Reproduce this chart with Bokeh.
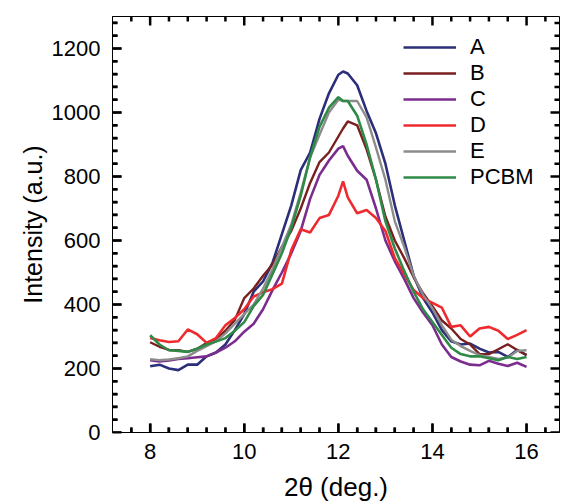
from bokeh.plotting import figure
from bokeh.models import Range1d, Legend, LegendItem, FixedTicker, Title
from bokeh.embed import file_html
from bokeh.resources import INLINE

two_theta = [8.0, 8.2, 8.4, 8.6, 8.8, 9.0, 9.2, 9.4, 9.6, 9.8, 10.0, 10.2, 10.4, 10.6,
             10.8, 11.0, 11.2, 11.4, 11.6, 11.8, 12.0, 12.1, 12.2, 12.4, 12.6, 12.8, 13.0,
             13.2, 13.4, 13.6, 13.8, 14.0, 14.2, 14.4, 14.6, 14.8, 15.0, 15.2, 15.4, 15.6,
             15.8, 16.0]

A = [207, 212, 200, 195, 212, 212, 238, 250, 275, 320, 370, 440, 472, 530, 620, 710, 820,
     875, 980, 1060, 1118, 1128, 1122, 1085, 1005, 935, 840, 710, 600, 490, 420, 375, 320,
     285, 275, 278, 262, 250, 252, 236, 258, 242]
B = [282, 268, 258, 257, 252, 262, 280, 292, 318, 352, 420, 450, 490, 525, 580, 630, 700,
     780, 845, 875, 925, 950, 972, 960, 885, 790, 675, 600, 545, 485, 435, 395, 350, 325,
     292, 275, 245, 245, 260, 276, 258, 242]
C = [226, 222, 225, 230, 232, 235, 238, 250, 265, 285, 315, 340, 385, 445, 500, 560, 630,
     730, 805, 850, 887, 895, 865, 818, 790, 700, 600, 535, 480, 420, 375, 335, 275, 236,
     222, 212, 210, 224, 215, 208, 218, 205]
D = [295, 288, 283, 285, 322, 307, 280, 295, 335, 358, 385, 425, 438, 448, 465, 570, 635,
     625, 670, 680, 740, 785, 735, 685, 695, 670, 630, 545, 495, 445, 420, 405, 390, 330,
     335, 300, 325, 330, 318, 292, 305, 320]
E = [229, 226, 228, 232, 238, 255, 270, 285, 310, 340, 370, 400, 450, 510, 580, 650, 750,
     860, 930, 1000, 1040, 1036, 1036, 1036, 985, 890, 790, 660, 580, 490, 430, 388, 335,
     290, 270, 255, 242, 236, 230, 234, 255, 257]
PCBM = [304, 275, 257, 255, 252, 262, 275, 284, 295, 318, 345, 395, 430, 495, 560, 640, 740,
        860, 955, 1015, 1048, 1036, 1036, 990, 900, 790, 660, 575, 505, 440, 385, 345, 305,
        265, 245, 238, 238, 232, 226, 236, 230, 236]

series_names = ["A", "B", "C", "D", "E", "PCBM"]
series_values = [A, B, C, D, E, PCBM]
colors = ["#2b2e78", "#7a1f1f", "#7b2d8e", "#ef2a2e", "#8c8c8c", "#2f8a48"]
widths = [2.6, 2.4, 2.6, 2.6, 2.4, 2.6]

x_ticks = [8, 10, 12, 14, 16]
x_minor = [7.6, 8.4, 8.8, 9.2, 9.6, 10.4, 10.8, 11.2, 11.6, 12.4, 12.8, 13.2, 13.6,
           14.4, 14.8, 15.2, 15.6, 16.4]
y_ticks = [0, 200, 400, 600, 800, 1000, 1200]
y_minor = [v for v in range(40, 1300, 40) if v % 200 != 0]

FONT = "Liberation Sans"
X0, X1, Y0, Y1 = 7.2, 16.7, 0, 1300

W, H = 561, 504
BL, BT, BR, BB = 112, 16, 2, 68
FW, FH = W - BL - BR, H - BT - BB          # frame size in px
DX, DY = (X1 - X0) / FW, (Y1 - Y0) / FH     # data units per px
MAJ, MIN = 9, 5                             # tick lengths in px

p = figure(width=W, height=H, output_backend="svg", toolbar_location=None,
           x_range=Range1d(X0, X1), y_range=Range1d(Y0, Y1),
           min_border_left=BL, min_border_top=BT, min_border_right=BR, min_border_bottom=BB)
p.outline_line_color = "black"
p.grid.visible = False

renderers = []
for name, vals, c, w in zip(series_names, series_values, colors, widths):
    r = p.line(two_theta, vals, line_color=c, line_width=w)
    renderers.append((name, r))

# inward ticks on all four edges
TW = 2.5
for ticks, ln in ((x_ticks, MAJ), (x_minor, MIN)):
    n = len(ticks)
    p.segment(x0=list(ticks), y0=[Y0] * n, x1=list(ticks), y1=[Y0 + ln * DY] * n,
              line_color="black", line_width=TW)
    p.segment(x0=list(ticks), y0=[Y1] * n, x1=list(ticks), y1=[Y1 - ln * DY] * n,
              line_color="black", line_width=TW)
for ticks, ln in ((y_ticks, MAJ), (y_minor, MIN)):
    n = len(ticks)
    p.segment(x0=[X0] * n, y0=list(ticks), x1=[X0 + ln * DX] * n, y1=list(ticks),
              line_color="black", line_width=TW)
    p.segment(x0=[X1] * n, y0=list(ticks), x1=[X1 - ln * DX] * n, y1=list(ticks),
              line_color="black", line_width=TW)

xb = p.xaxis[0]
yl = p.yaxis[0]
xb.ticker = FixedTicker(ticks=x_ticks, minor_ticks=x_minor)
yl.ticker = FixedTicker(ticks=y_ticks, minor_ticks=y_minor)
for ax in (xb, yl):
    ax.axis_line_color = "black"
    ax.major_tick_in = MAJ
    ax.major_tick_out = 0
    ax.minor_tick_in = MIN
    ax.minor_tick_out = 0
    ax.major_tick_line_width = 2
    ax.minor_tick_line_width = 2
    ax.major_label_text_font = FONT
    ax.major_label_text_font_size = "22px"
    ax.major_label_text_color = "black"
xb.major_label_standoff = 11
yl.major_label_standoff = 12

xb.axis_label = "2θ (deg.)"
xb.axis_label_text_font = FONT
xb.axis_label_text_font_style = "normal"
xb.axis_label_text_font_size = "26px"
xb.axis_label_text_color = "black"
xb.axis_label_standoff = 10

p.add_layout(Title(text="Intensity (a.u.)", align="center",
                   text_font=FONT, text_font_style="normal", text_font_size="25px",
                   text_color="black", standoff=4), "left")

legend = Legend(items=[LegendItem(label=n, renderers=[r]) for n, r in renderers],
                location=(291, 242), orientation="vertical")
legend.background_fill_alpha = 0
legend.border_line_alpha = 0
legend.glyph_width = 53
legend.glyph_height = 20
legend.label_height = 20
legend.spacing = 0
legend.padding = 0
legend.margin = 0
legend.label_standoff = 14
legend.label_text_font = FONT
legend.label_text_font_size = "22px"
legend.label_text_color = "black"
p.add_layout(legend)

open("out.html", "w").write(file_html(p, INLINE))
